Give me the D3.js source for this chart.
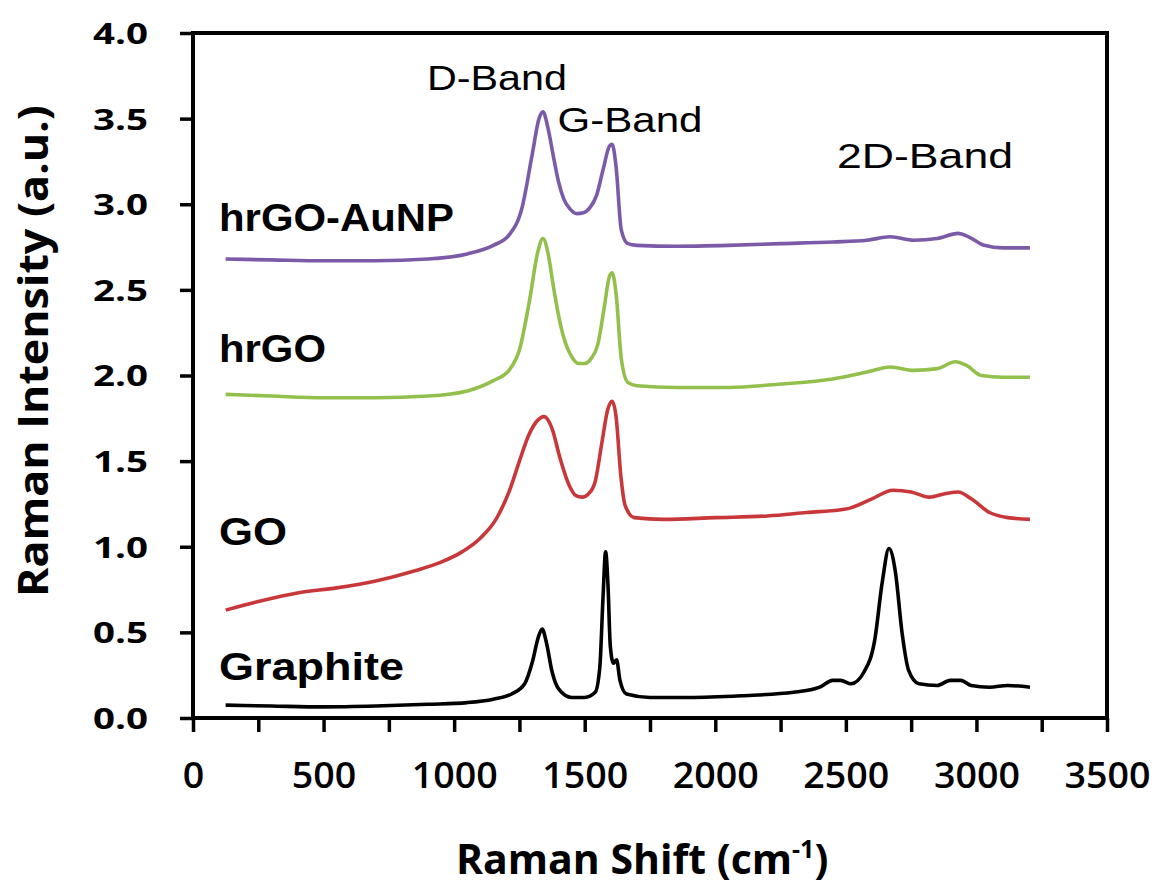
<!DOCTYPE html>
<html>
<head>
<meta charset="utf-8">
<script src="https://cdn.jsdelivr.net/npm/d3@7"></script>
<style>
  body { margin: 0; background: #fff; }
  svg { display: block; }
</style>
</head>
<body>
<div id="container"></div>
<script>
var w = 1157;
var h = 890;

// spectra, [Raman shift, intensity]
var graphite = [[125,0.075],[300,0.07],[500,0.065],[700,0.07],[900,0.08],[1050,0.09],[1150,0.11],[1220,0.14],[1270,0.2],[1300,0.33],[1322,0.47],[1337,0.52],[1352,0.45],[1375,0.27],[1400,0.17],[1450,0.12],[1500,0.12],[1540,0.15],[1558,0.3],[1570,0.7],[1580,0.97],[1589,0.78],[1598,0.42],[1610,0.32],[1622,0.34],[1635,0.22],[1660,0.14],[1750,0.12],[1900,0.12],[2100,0.13],[2300,0.15],[2400,0.18],[2450,0.22],[2480,0.22],[2520,0.2],[2570,0.27],[2610,0.45],[2640,0.8],[2665,0.99],[2690,0.85],[2715,0.5],[2740,0.28],[2780,0.2],[2850,0.19],[2900,0.22],[2940,0.22],[2980,0.19],[3050,0.18],[3120,0.19],[3205,0.18]];
var go = [[125,0.63],[250,0.68],[400,0.73],[550,0.76],[700,0.8],[850,0.86],[950,0.91],[1030,0.97],[1100,1.05],[1160,1.16],[1210,1.32],[1250,1.5],[1285,1.65],[1315,1.73],[1345,1.76],[1375,1.69],[1405,1.52],[1440,1.36],[1465,1.3],[1490,1.29],[1515,1.31],[1540,1.38],[1565,1.6],[1588,1.8],[1605,1.85],[1620,1.76],[1638,1.42],[1655,1.24],[1690,1.17],[1800,1.16],[2000,1.17],[2200,1.18],[2350,1.2],[2500,1.22],[2600,1.28],[2680,1.33],[2750,1.32],[2820,1.29],[2880,1.31],[2930,1.32],[2980,1.28],[3050,1.2],[3120,1.17],[3205,1.16]];
var hrgo = [[125,1.89],[300,1.88],[500,1.87],[700,1.87],[900,1.88],[1050,1.91],[1150,1.97],[1210,2.03],[1250,2.15],[1290,2.45],[1320,2.72],[1340,2.8],[1360,2.71],[1380,2.52],[1400,2.35],[1420,2.22],[1450,2.11],[1475,2.07],[1500,2.07],[1525,2.1],[1550,2.18],[1575,2.4],[1595,2.58],[1605,2.6],[1620,2.48],[1640,2.1],[1665,1.96],[1700,1.94],[1850,1.93],[2050,1.93],[2250,1.95],[2450,1.98],[2580,2.02],[2670,2.05],[2760,2.03],[2850,2.04],[2920,2.08],[2960,2.06],[3020,2.0],[3100,1.99],[3205,1.99]];
var hrgoAu = [[125,2.68],[300,2.675],[500,2.67],[700,2.67],[900,2.68],[1050,2.71],[1150,2.76],[1210,2.82],[1260,2.98],[1300,3.3],[1325,3.5],[1340,3.54],[1360,3.44],[1380,3.28],[1400,3.13],[1420,3.03],[1445,2.97],[1470,2.945],[1495,2.95],[1520,2.98],[1545,3.05],[1570,3.2],[1595,3.34],[1605,3.35],[1620,3.22],[1640,2.85],[1665,2.77],[1700,2.76],[1850,2.755],[2050,2.76],[2250,2.77],[2450,2.78],[2580,2.79],[2670,2.81],[2760,2.79],[2850,2.8],[2930,2.83],[2970,2.81],[3030,2.76],[3100,2.745],[3205,2.745]];

var seriesNames = ["Graphite", "GO", "hrGO", "hrGO-AuNP"];
var seriesColors = ["#000000", "#c8383a", "#93c04c", "#7b5ba8"];
var seriesData = [graphite, go, hrgo, hrgoAu];

var yTicks = [0, 0.5, 1, 1.5, 2, 2.5, 3, 3.5, 4];
var xTicks = d3.range(0, 3501, 250);

var bands = [
  {name: "D-Band", x: 497, y: 90, len: 140},
  {name: "G-Band", x: 630, y: 132, len: 145},
  {name: "2D-Band", x: 925, y: 168, len: 176}
];
var labelPos = [
  {y: 680, len: 185},
  {y: 545, len: 68},
  {y: 362, len: 107},
  {y: 231, len: 235}
];

var svg = d3.select("div#container")
    .append("svg")
    .attr("width", w)
    .attr("height", h)
    .style("background-color", "#fff");

var x = d3.scaleLinear().domain([0, 3500]).range([193, 1107]);
var y = d3.scaleLinear().domain([0, 4]).range([718, 33]);

// y axis
var gy = svg.append("g")
    .attr("transform", "translate(193,0)")
    .call(d3.axisLeft(y).tickValues(yTicks).tickSize(13).tickPadding(32).tickFormat(d3.format(".1f")));
gy.select(".domain").remove();
gy.selectAll(".tick line").attr("stroke", "#000").attr("stroke-width", 3.5);
gy.selectAll(".tick text")
    .attr("font-family", "'Open Sans', sans-serif")
    .attr("font-weight", 700)
    .attr("font-size", 29)
    .attr("fill", "#000")
    .attr("dy", "0.36em")
    .attr("textLength", 55)
    .attr("lengthAdjust", "spacingAndGlyphs");

// x axis
var gx = svg.append("g")
    .attr("transform", "translate(0,718)")
    .call(d3.axisBottom(x).tickValues(xTicks).tickSize(14).tickPadding(30)
      .tickFormat(d => d % 500 === 0 ? d : ""));
gx.select(".domain").remove();
gx.selectAll(".tick line").attr("stroke", "#000").attr("stroke-width", 3.5);
gx.selectAll(".tick text")
    .attr("font-family", "'Open Sans', sans-serif")
    .attr("font-weight", 600)
    .attr("font-size", 36)
    .attr("fill", "#000")
    .attr("dy", "0.71em")
    .each(function(d) {
      var s = d % 500 === 0 ? String(d) : "";
      if (s) d3.select(this).attr("textLength", s.length * 21.5).attr("lengthAdjust", "spacingAndGlyphs");
    });

// frame
svg.append("rect")
    .attr("x", x(0))
    .attr("y", y(4))
    .attr("width", x(3500) - x(0))
    .attr("height", y(0) - y(4))
    .attr("fill", "none")
    .attr("stroke", "#000")
    .attr("stroke-width", 4);

var line = d3.line()
    .x(d => x(d[0]))
    .y(d => y(d[1]))
    .curve(d3.curveMonotoneX);

svg.append("g")
  .selectAll("path")
  .data(seriesData)
  .enter()
    .append("path")
    .attr("d", line)
    .attr("fill", "none")
    .attr("stroke", (d, i) => seriesColors[i])
    .attr("stroke-width", 3.6)
    .attr("stroke-linejoin", "round");

// series names
svg.append("g")
  .selectAll("text")
  .data(seriesNames)
  .enter()
    .append("text")
    .attr("x", 219)
    .attr("y", (d, i) => labelPos[i].y)
    .attr("font-family", "'Liberation Sans', Arial, sans-serif")
    .attr("font-weight", "bold")
    .attr("font-size", 39)
    .attr("textLength", (d, i) => labelPos[i].len)
    .attr("lengthAdjust", "spacingAndGlyphs")
    .text(d => d);

// band names
svg.append("g")
  .selectAll("text")
  .data(bands)
  .enter()
    .append("text")
    .attr("x", d => d.x)
    .attr("y", d => d.y)
    .attr("text-anchor", "middle")
    .attr("font-family", "'Liberation Sans', Arial, sans-serif")
    .attr("font-size", 35)
    .attr("textLength", d => d.len)
    .attr("lengthAdjust", "spacingAndGlyphs")
    .text(d => d.name);

// axis titles
svg.append("text")
    .attr("transform", "translate(48,351) rotate(-90)")
    .attr("text-anchor", "middle")
    .attr("font-family", "'Open Sans', sans-serif")
    .attr("font-weight", 700)
    .attr("font-size", 41)
    .attr("textLength", 492)
    .attr("lengthAdjust", "spacingAndGlyphs")
    .text("Raman Intensity (a.u.)");

var xt = svg.append("text")
    .attr("x", 456)
    .attr("y", 874)
    .attr("font-family", "'Open Sans', sans-serif")
    .attr("font-weight", 700)
    .attr("font-size", 41);
xt.append("tspan").text("Raman Shift (cm");
xt.append("tspan").attr("dy", -16).attr("font-size", 25).text("-1");
xt.append("tspan").attr("dy", 16).text(")");
</script>
</body>
</html>
